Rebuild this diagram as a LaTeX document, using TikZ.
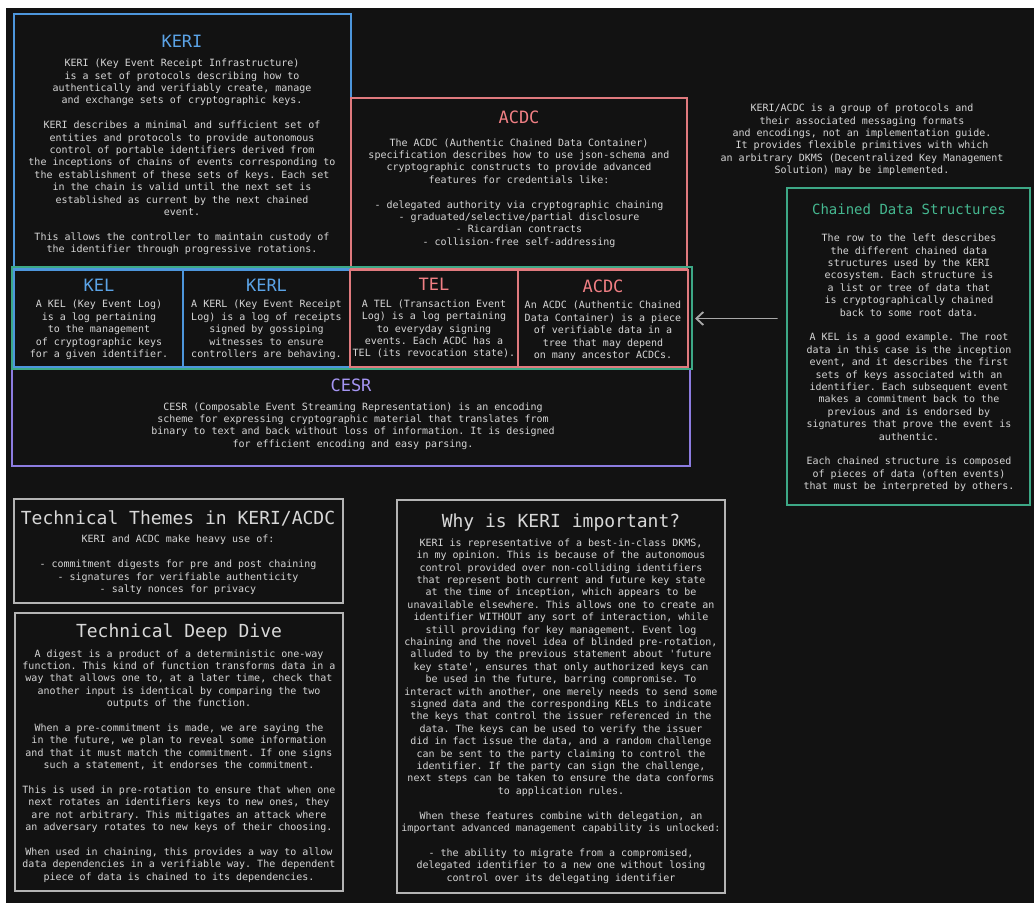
\documentclass[tikz,border=0pt]{standalone}
\usepackage{fontspec}
\newfontfamily\monofam{DejaVu Sans Mono}
\usetikzlibrary{arrows.meta}
\frenchspacing

\definecolor{bgdark}{HTML}{121212}
\definecolor{bodytext}{HTML}{D6D6D6}
\definecolor{greytitle}{HTML}{D8D8D8}
\definecolor{greyline}{HTML}{B4B4B4}
\definecolor{kblue}{HTML}{4D96DC}
\definecolor{kbluetxt}{HTML}{5BA3E6}
\definecolor{kred}{HTML}{E07A7E}
\definecolor{kredtxt}{HTML}{F07F84}
\definecolor{kgreen}{HTML}{3DA886}
\definecolor{kgreentxt}{HTML}{45B890}
\definecolor{kpurple}{HTML}{8C7CE0}
\definecolor{kpurpletxt}{HTML}{A595F2}
\definecolor{arrowgrey}{HTML}{A8A8A8}

\begin{document}
\begin{tikzpicture}[x=1pt,y=-1pt,
  panel/.style={draw=#1, line width=1.4pt, rectangle, anchor=north west,
    inner sep=0pt, outer sep=0pt},
  ctitle/.style={font=\monofam\fontsize{17}{20}\selectfont, text=#1,
    inner sep=0pt, text height=12.4pt, text depth=0pt},
  gtitle/.style={font=\monofam\fontsize{18}{21}\selectfont, text=greytitle,
    inner sep=0pt, text height=13.1pt, text depth=0pt},
  stitle/.style={font=\monofam\fontsize{14}{17}\selectfont, text=#1,
    inner sep=0pt, text height=10.2pt, text depth=0pt},
  body/.style={font=\monofam\fontsize{10}{12.4}\selectfont, text=bodytext,
    align=center, inner sep=0pt},
  pointer/.style={draw=arrowgrey, line width=1.8pt, line cap=round,
    -{Straight Barb[length=7pt,width=13pt,line width=1.8pt]}}
]
% page and dark canvas
\fill[white] (0,0) rectangle (1034,903);
\fill[bgdark] (6,8) rectangle (1034,903);
\useasboundingbox (0,0) rectangle (1034,903);

% ---------- upper panels ----------
\node[panel=kblue, minimum width=337pt, minimum height=254pt] (keri) at (14,14) {};
\node[panel=kred, minimum width=336pt, minimum height=170pt] (acdcbig) at (351,98) {};

\node[ctitle=kbluetxt] (keritit) at (182,41) {KERI};
\node[body] (keribody) at (182,157) {KERI (Key Event Receipt Infrastructure)\\
is a set of protocols describing how to\\
authentically and verifiably create, manage\\
and exchange sets of cryptographic keys.\\[12.4pt]
KERI describes a minimal and sufficient set of\\
entities and protocols to provide autonomous\\
control of portable identifiers derived from\\
the inceptions of chains of events corresponding to\\
the establishment of these sets of keys. Each set\\
in the chain is valid until the next set is\\
established as current by the next chained\\
event.\\[12.4pt]
This allows the controller to maintain custody of\\
the identifier through progressive rotations.};

\node[ctitle=kredtxt] (acdcbigtit) at (519,117) {ACDC};
\node[body] (acdcbigbody) at (519,193) {The ACDC (Authentic Chained Data Container)\\
specification describes how to use json-schema and\\
cryptographic constructs to provide advanced\\
features for credentials like:\\[12.4pt]
- delegated authority via cryptographic chaining\\
- graduated/selective/partial disclosure\\
- Ricardian contracts\\
- collision-free self-addressing};

% ---------- free note, top right ----------
\node[body] (note) at (862,140) {KERI/ACDC is a group of protocols and\\
their associated messaging formats\\
and encodings, not an implementation guide.\\
It provides flexible primitives with which\\
an arbitrary DKMS (Decentralized Key Management\\
Solution) may be implemented.};

% ---------- row of chained data structures ----------
\node[panel=kpurple, minimum width=678pt, minimum height=97pt] (cesr) at (12,369) {};
\node[panel=kblue, minimum width=169pt, minimum height=97pt] (kel) at (14,270) {};
\node[panel=kblue, minimum width=167pt, minimum height=97pt] (kerl) at (183,270) {};
\node[panel=kred, minimum width=168pt, minimum height=97pt] (tel) at (350,270) {};
\node[panel=kred, minimum width=170pt, minimum height=97pt] (acdc) at (518,270) {};
\node[panel=kgreen, minimum width=680pt, minimum height=102pt] (row) at (12,267) {};

\node[ctitle=kbluetxt] (keltit) at (99,285) {KEL};
\node[body] (kelbody) at (99,330) {A KEL (Key Event Log)\\
is a log pertaining\\
to the management\\
of cryptographic keys\\
for a given identifier.};

\node[ctitle=kbluetxt] (kerltit) at (266.5,285) {KERL};
\node[body] (kerlbody) at (266.5,330) {A KERL (Key Event Receipt\\
Log) is a log of receipts\\
signed by gossiping\\
witnesses to ensure\\
controllers are behaving.};

\node[ctitle=kredtxt] (teltit) at (434,284) {TEL};
\node[body] (telbody) at (434,329) {A TEL (Transaction Event\\
Log) is a log pertaining\\
to everyday signing\\
events. Each ACDC has a\\
TEL (its revocation state).};

\node[ctitle=kredtxt] (acdctit) at (603,286) {ACDC};
\node[body] (acdcbody) at (603,331) {An ACDC (Authentic Chained\\
Data Container) is a piece\\
of verifiable data in a\\
tree that may depend\\
on many ancestor ACDCs.};

\node[ctitle=kpurpletxt] (cesrtit) at (351,385) {CESR};
\node[body] (cesrbody) at (353,426) {CESR (Composable Event Streaming Representation) is an encoding\\
scheme for expressing cryptographic material that translates from\\
binary to text and back without loss of information. It is designed\\
for efficient encoding and easy parsing.};

% ---------- chained data structures explanation ----------
\node[panel=kgreen, minimum width=243pt, minimum height=317pt] (chained) at (787,188) {};
\node[stitle=kgreentxt] (chainedtit) at (909,209) {Chained Data Structures};
\node[body] (chainedbody) at (909,363) {The row to the left describes\\
the different chained data\\
structures used by the KERI\\
ecosystem. Each structure is\\
a list or tree of data that\\
is cryptographically chained\\
back to some root data.\\[12.4pt]
A KEL is a good example. The root\\
data in this case is the inception\\
event, and it describes the first\\
sets of keys associated with an\\
identifier. Each subsequent event\\
makes a commitment back to the\\
previous and is endorsed by\\
signatures that prove the event is\\
authentic.\\[12.4pt]
Each chained structure is composed\\
of pieces of data (often events)\\
that must be interpreted by others.};

\draw[pointer, shorten <=10pt, shorten >=7pt] (chained.west |- acdc.east) -- (acdc.east);

% ---------- lower panels ----------
\node[panel=greyline, line width=1.2pt, minimum width=329pt, minimum height=104pt] (themes) at (14,499) {};
\node[gtitle] (themestit) at (178,518) {Technical Themes in KERI/ACDC};
\node[body] (themesbody) at (178,565) {KERI and ACDC make heavy use of:\\[12.4pt]
- commitment digests for pre and post chaining\\
- signatures for verifiable authenticity\\
- salty nonces for privacy};

\node[panel=greyline, line width=1.2pt, minimum width=328pt, minimum height=278pt] (deep) at (15,613) {};
\node[gtitle] (deeptit) at (179,631) {Technical Deep Dive};
\node[body] (deepbody) at (179,766) {A digest is a product of a deterministic one-way\\
function. This kind of function transforms data in a\\
way that allows one to, at a later time, check that\\
another input is identical by comparing the two\\
outputs of the function.\\[12.4pt]
When a pre-commitment is made, we are saying the\\
in the future, we plan to reveal some information\\
and that it must match the commitment. If one signs\\
such a statement, it endorses the commitment.\\[12.4pt]
This is used in pre-rotation to ensure that when one\\
next rotates an identifiers keys to new ones, they\\
are not arbitrary. This mitigates an attack where\\
an adversary rotates to new keys of their choosing.\\[12.4pt]
When used in chaining, this provides a way to allow\\
data dependencies in a verifiable way. The dependent\\
piece of data is chained to its dependencies.};

\node[panel=greyline, line width=1.2pt, minimum width=328pt, minimum height=393pt] (why) at (397,500) {};
\node[gtitle] (whytit) at (561,521) {Why is KERI important?};
\node[body] (whybody) at (561,711) {KERI is representative of a best-in-class DKMS,\\
in my opinion. This is because of the autonomous\\
control provided over non-colliding identifiers\\
that represent both current and future key state\\
at the time of inception, which appears to be\\
unavailable elsewhere. This allows one to create an\\
identifier WITHOUT any sort of interaction, while\\
still providing for key management. Event log\\
chaining and the novel idea of blinded pre-rotation,\\
alluded to by the previous statement about 'future\\
key state', ensures that only authorized keys can\\
be used in the future, barring compromise. To\\
interact with another, one merely needs to send some\\
signed data and the corresponding KELs to indicate\\
the keys that control the issuer referenced in the\\
data. The keys can be used to verify the issuer\\
did in fact issue the data, and a random challenge\\
can be sent to the party claiming to control the\\
identifier. If the party can sign the challenge,\\
next steps can be taken to ensure the data conforms\\
to application rules.\\[12.4pt]
When these features combine with delegation, an\\
important advanced management capability is unlocked:\\[12.4pt]
- the ability to migrate from a compromised,\\
delegated identifier to a new one without losing\\
control over its delegating identifier};
\end{tikzpicture}
\end{document}
